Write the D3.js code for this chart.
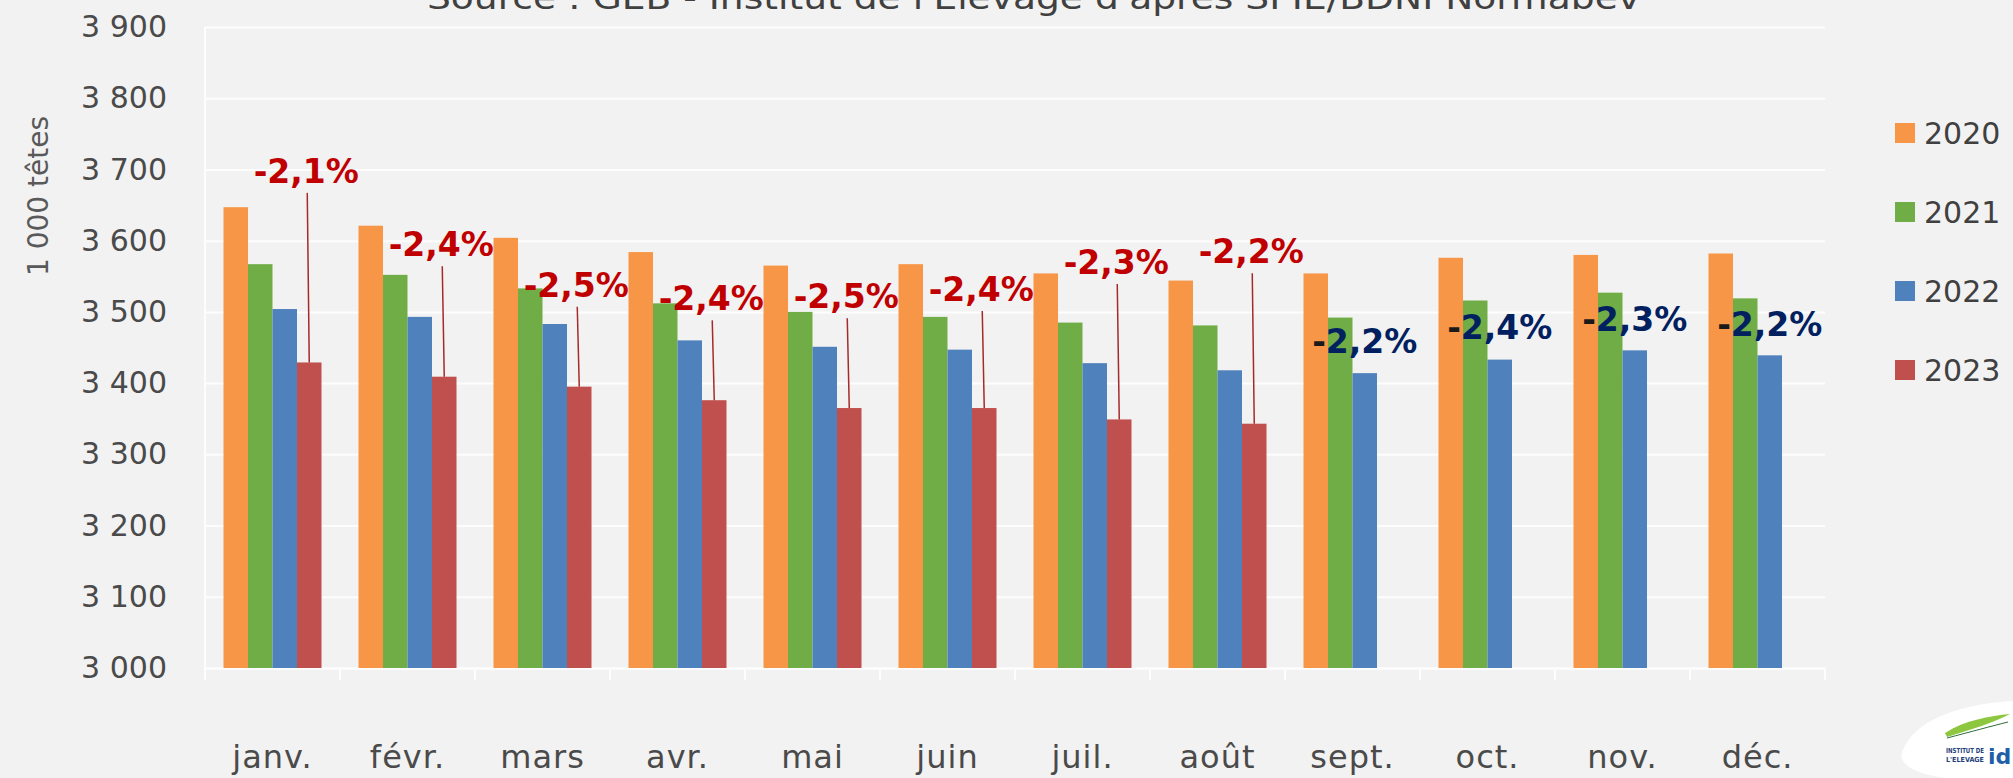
<!DOCTYPE html>
<html>
<head>
<meta charset="utf-8">
<script src="https://cdn.jsdelivr.net/npm/d3@7/dist/d3.min.js"></script>
<style>
  body { margin: 0; background: #f2f2f2; }
  svg { display: block; }
</style>
</head>
<body>
<svg id="chart"></svg>
<script>
// cheptel de vaches, 1 000 têtes, par mois
var months = ["janv.", "févr.", "mars", "avr.", "mai", "juin", "juil.", "août", "sept.", "oct.", "nov.", "déc."];
var years = ["2020", "2021", "2022", "2023"];
var v2020 = [3647, 3621, 3604, 3584, 3565, 3567, 3554, 3544, 3554, 3576, 3580, 3582];
var v2021 = [3567, 3552, 3533, 3512, 3500, 3493, 3485, 3481, 3492, 3516, 3527, 3519];
var v2022 = [3504, 3493, 3483, 3460, 3451, 3447, 3428, 3418, 3414, 3433, 3446, 3439];
var v2023 = [3429, 3409, 3395, 3376, 3365, 3365, 3349, 3343, null, null, null, null];

// évolution annuelle affichée au-dessus de chaque mois
var pctLabels = ["-2,1%", "-2,4%", "-2,5%", "-2,4%", "-2,5%", "-2,4%", "-2,3%", "-2,2%", "-2,2%", "-2,4%", "-2,3%", "-2,2%"];
var pctYear = ["2023", "2023", "2023", "2023", "2023", "2023", "2023", "2023", "2022", "2022", "2022", "2022"];
var pctLevel = [3698, 3595, 3538, 3519, 3522, 3532, 3570, 3585, 3459, 3479, 3490, 3483];

var yTicks = [3000, 3100, 3200, 3300, 3400, 3500, 3600, 3700, 3800, 3900];

var width = 2013, height = 778;
var plotLeft = 205, plotRight = 1825, plotTop = 27, plotBottom = 668;

var series = { "2020": v2020, "2021": v2021, "2022": v2022, "2023": v2023 };

var svg = d3.select("#chart").attr("width", width).attr("height", height);
svg.append("rect").attr("width", width).attr("height", height).attr("fill", "#f2f2f2");

var x0 = d3.scaleBand().domain(months).range([plotLeft, plotRight]).paddingInner(0.274).paddingOuter(0.137);
var x1 = d3.scaleBand().domain(years).range([0, x0.bandwidth()]);
var y = d3.scaleLinear().domain([3000, 3900]).range([plotBottom, plotTop]);
var color = d3.scaleOrdinal().domain(years).range(["#F79646", "#70AD47", "#4F81BD", "#C0504D"]);

var fmt = function(d) { return d3.format(",")(d).replace(",", " "); };

// source line, cut by the top of the frame
svg.append("text")
    .attr("x", 427).attr("y", 9)
    .attr("textLength", 1213).attr("lengthAdjust", "spacingAndGlyphs")
    .style("font-family", "DejaVu Sans").style("font-size", "32px").style("fill", "#404040")
    .text("Source : GEB - Institut de l'Elevage d'après SPIE/BDNI Normabev");

// y axis + gridlines
var yAxis = svg.append("g")
    .attr("transform", "translate(" + plotLeft + ",0)")
    .call(d3.axisLeft(y).tickValues(yTicks).tickSize(-(plotRight - plotLeft)).tickPadding(38).tickFormat(fmt));
yAxis.select(".domain").remove();
yAxis.selectAll(".tick line").attr("stroke", "#fdfdfd").attr("stroke-width", 2);
yAxis.selectAll(".tick text")
    .style("font-family", "DejaVu Sans").style("font-size", "30px").style("fill", "#4a4a4a");

svg.append("line")
    .attr("x1", plotLeft).attr("x2", plotLeft).attr("y1", plotTop).attr("y2", plotBottom)
    .attr("stroke", "#fdfdfd").attr("stroke-width", 2);

// x axis
var xAxis = svg.append("g")
    .attr("transform", "translate(0," + plotBottom + ")")
    .call(d3.axisBottom(x0).tickSize(0));
xAxis.select(".domain").attr("stroke", "#fdfdfd").attr("stroke-width", 2);
xAxis.selectAll(".tick text")
    .attr("y", 100).attr("dy", null)
    .style("font-family", "DejaVu Sans").style("font-size", "32px")
    .style("letter-spacing", "1px").style("fill", "#4a4a4a");

svg.append("g").selectAll("line")
    .data(months.concat(["end"]))
    .enter().append("line")
    .attr("x1", function(d, i) { return plotLeft + i * x0.step(); })
    .attr("x2", function(d, i) { return plotLeft + i * x0.step(); })
    .attr("y1", plotBottom).attr("y2", plotBottom + 12)
    .attr("stroke", "#fdfdfd").attr("stroke-width", 2);

// bars
var groups = svg.append("g").selectAll("g")
    .data(months)
    .enter().append("g")
    .attr("transform", function(d) { return "translate(" + x0(d) + ",0)"; });

groups.selectAll("rect")
    .data(function(m, i) {
        return years.map(function(yr) { return { year: yr, value: series[yr][i] }; })
            .filter(function(d) { return d.value != null; });
    })
    .enter().append("rect")
    .attr("x", function(d) { return x1(d.year); })
    .attr("width", x1.bandwidth())
    .attr("y", function(d) { return y(d.value); })
    .attr("height", function(d) { return plotBottom - y(d.value); })
    .attr("fill", function(d) { return color(d.year); });

// leader lines + percentage labels
var labels = svg.append("g");
months.forEach(function(m, i) {
    var yr = pctYear[i];
    var cx = x0(m) + x1(yr) + x1.bandwidth() / 2;
    var cy = y(pctLevel[i]);
    if (yr === "2023") {
        labels.append("line")
            .attr("x1", cx - 2).attr("y1", cy + 22)
            .attr("x2", cx).attr("y2", y(v2023[i]))
            .attr("stroke", "#a52a2a").attr("stroke-width", 1.5);
        labels.append("text")
            .attr("x", cx - 3).attr("y", cy).attr("dy", "0.36em")
            .attr("text-anchor", "middle")
            .style("font-family", "DejaVu Sans").style("font-weight", "bold")
            .style("font-size", "33px").style("fill", "#C00000")
            .text(pctLabels[i]);
    } else {
        var t = labels.append("text")
            .attr("x", cx).attr("y", cy).attr("dy", "0.36em")
            .attr("text-anchor", "middle")
            .style("font-family", "DejaVu Sans").style("font-weight", "bold")
            .style("font-size", "33px").style("fill", "#002060");
        t.append("tspan").style("fill", "#1a1a1a").text(pctLabels[i].slice(0, 1));
        t.append("tspan").text(pctLabels[i].slice(1));
    }
});

// y title
svg.append("text")
    .attr("transform", "translate(38,196) rotate(-90)")
    .attr("text-anchor", "middle").attr("dy", "0.35em")
    .style("font-family", "DejaVu Sans").style("font-size", "28px").style("fill", "#595959")
    .text("1 000 têtes");

// legend
var legend = svg.append("g").selectAll("g")
    .data(years)
    .enter().append("g")
    .attr("transform", function(d, i) { return "translate(1895," + (133 + i * 79) + ")"; });
legend.append("rect")
    .attr("x", 0).attr("y", -10).attr("width", 20).attr("height", 20)
    .attr("fill", function(d) { return color(d); });
legend.append("text")
    .attr("x", 29).attr("dy", "0.36em")
    .style("font-family", "DejaVu Sans").style("font-size", "30px").style("fill", "#404040")
    .text(function(d) { return d; });

// idele logo corner
var logo = svg.append("g");
logo.append("path")
    .attr("d", "M1902,752 C1913,720 1960,704 2013,701 L2013,778 L1945,778 C1916,774 1898,765 1902,752 Z")
    .attr("fill", "#ffffff");
logo.append("path")
    .attr("d", "M1945,733 C1965,720 1990,716 2010,714 C1995,722 1970,730 1947,737 Z")
    .attr("fill", "#8dc63f");
logo.append("path")
    .attr("d", "M1947,738 C1970,732 1992,726 2008,722")
    .attr("fill", "none").attr("stroke", "#2d6e3a").attr("stroke-width", 1);
logo.append("text").attr("x", 1946).attr("y", 753)
    .attr("textLength", 38).attr("lengthAdjust", "spacingAndGlyphs")
    .style("font-family", "DejaVu Sans").style("font-weight", "bold").style("font-size", "7px")
    .style("fill", "#1f3f7a").text("INSTITUT DE");
logo.append("text").attr("x", 1946).attr("y", 762)
    .attr("textLength", 38).attr("lengthAdjust", "spacingAndGlyphs")
    .style("font-family", "DejaVu Sans").style("font-weight", "bold").style("font-size", "7px")
    .style("fill", "#1f3f7a").text("L'ELEVAGE");
logo.append("text").attr("x", 1988).attr("y", 764)
    .style("font-family", "DejaVu Sans").style("font-weight", "bold").style("font-size", "22px")
    .style("fill", "#1f5fa8").text("id");
</script>
</body>
</html>
